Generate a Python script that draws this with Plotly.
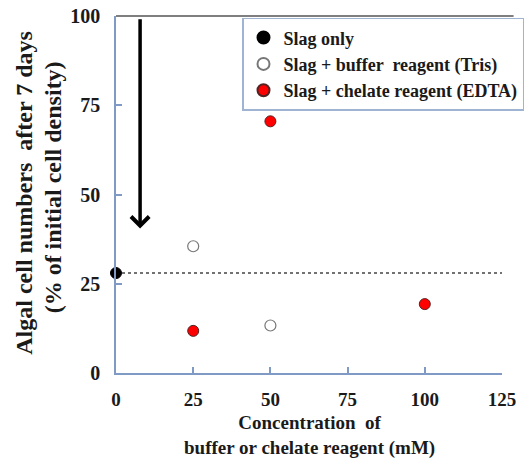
import plotly.graph_objects as go

# Data
slag_x = [0]
slag_y = [28]
tris_x = [25, 50]
tris_y = [35.5, 13.3]
edta_x = [25, 50, 100]
edta_y = [11.8, 70.5, 19.3]
baseline = 28
x_ticks = [0, 25, 50, 75, 100, 125]
y_ticks = [0, 25, 50, 75, 100]
arrow_x = 7.8
arrow_top = 99.5
arrow_bottom = 40.5

FONT = "Times New Roman, Liberation Serif, serif"
AXC = "#7f9ac4"
TXT = "#1a1a1a"

fig = go.Figure()
fig.add_trace(go.Scatter(x=slag_x, y=slag_y, mode="markers", name="<b>Slag only</b>",
                         marker=dict(size=11, color="black", line=dict(color="black", width=1)),
                         cliponaxis=False))
fig.add_trace(go.Scatter(x=tris_x, y=tris_y, mode="markers", name="<b>Slag + buffer  reagent (Tris)</b>",
                         marker=dict(size=11, color="white", line=dict(color="#777777", width=1.2)),
                         cliponaxis=False))
fig.add_trace(go.Scatter(x=edta_x, y=edta_y, mode="markers", name="<b>Slag + chelate reagent (EDTA)</b>",
                         marker=dict(size=11, color="#ff0000", line=dict(color="#552222", width=1)),
                         cliponaxis=False))

# dashed baseline
fig.add_shape(type="line", xref="x", yref="y", x0=0, x1=128, y0=baseline, y1=baseline,
              line=dict(color="#444444", width=1.5, dash="dot"), layer="below")
# top frame line
fig.add_shape(type="line", xref="paper", yref="paper", x0=0, x1=1.03, y0=1, y1=1,
              line=dict(color="#555555", width=1.5))

# arrow
fig.add_annotation(x=arrow_x, y=arrow_bottom, ax=arrow_x, ay=arrow_top, xref="x", yref="y",
                   axref="x", ayref="y", text="", showarrow=True, arrowhead=4, arrowsize=1,
                   arrowwidth=3.5, arrowcolor="black")

# axis titles
W, H = 386.0, 357.0
fig.add_annotation(xref="paper", yref="paper", x=(24 - 116) / W, y=0.505, textangle=-90,
                   text="<b>Algal cell numbers  after 7 days</b>",
                   showarrow=False, font=dict(family=FONT, size=24, color=TXT),
                   xanchor="center", yanchor="middle")
fig.add_annotation(xref="paper", yref="paper", x=(53 - 116) / W, y=0.52, textangle=-90,
                   text="<b>(% of initial cell density)</b>",
                   showarrow=False, font=dict(family=FONT, size=24, color=TXT),
                   xanchor="center", yanchor="middle")
fig.add_annotation(xref="paper", yref="paper", x=0.5, y=-(435 - 373) / H, yanchor="middle",
                   text="<b>Concentration  of<br>buffer or chelate reagent (mM)</b>",
                   showarrow=False, font=dict(family=FONT, size=19, color=TXT))

fig.update_xaxes(range=[0, 125], tickvals=x_ticks, ticktext=[f"<b>{v}</b>" for v in x_ticks],
                 showgrid=False, zeroline=False, showline=True, linecolor=AXC, linewidth=1.5,
                 ticks="inside", ticklen=6, tickcolor=AXC, tickwidth=1.5,
                 tickfont=dict(family=FONT, size=19, color=TXT), ticklabelstandoff=8)
fig.update_yaxes(range=[0, 100], tickvals=y_ticks, ticktext=[f"<b>{v}</b>" for v in y_ticks],
                 showgrid=False, zeroline=False, showline=True, linecolor=AXC, linewidth=1.5,
                 ticks="inside", ticklen=6, tickcolor=AXC, tickwidth=1.5,
                 tickfont=dict(family=FONT, size=20, color=TXT), ticklabelstandoff=10)

fig.update_layout(
    width=526, height=459,
    margin=dict(l=116, r=24, t=16, b=86, autoexpand=False),
    plot_bgcolor="white", paper_bgcolor="white",
    font=dict(family=FONT, color=TXT),
    legend=dict(x=(242 - 116) / W, y=0.995, xanchor="left", yanchor="top",
                bordercolor="#9fb3d3", borderwidth=1.5, bgcolor="white",
                font=dict(family=FONT, size=18, color=TXT),
                itemsizing="constant", tracegroupgap=0, itemwidth=30),
    showlegend=True,
)

fig.write_html("out.html")
